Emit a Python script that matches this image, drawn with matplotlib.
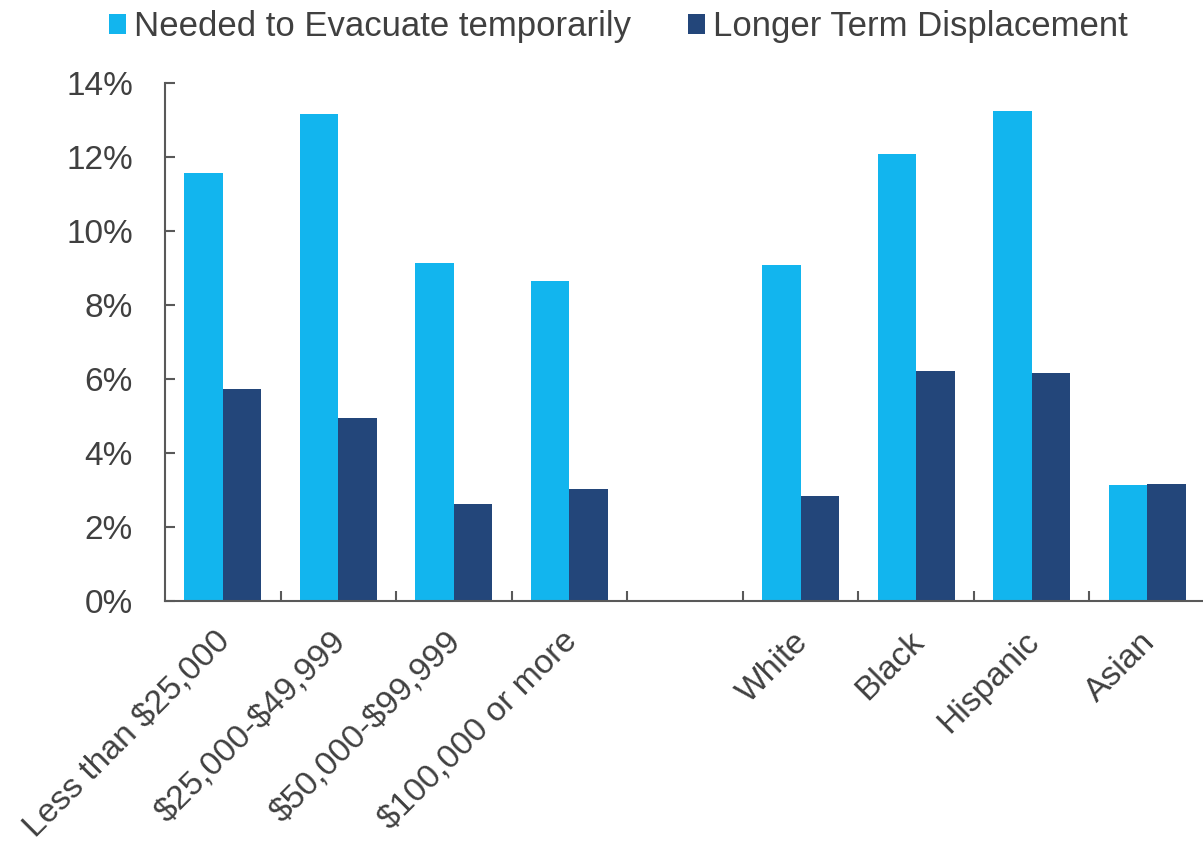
import numpy as np
import matplotlib.pyplot as plt
from matplotlib.transforms import ScaledTranslation

plt.rcParams['font.family'] = ['Liberation Sans', 'DejaVu Sans']
plt.rcParams['text.parse_math'] = False  # keep the dollar signs literal

categories = ['Less than $25,000', '$25,000-$49,999', '$50,000-$99,999', '$100,000 or more',
              '', 'White', 'Black', 'Hispanic', 'Asian']
evacuate = [11.57, 13.16, 9.14, 8.65, np.nan, 9.08, 12.08, 13.24, 3.14]
displaced = [5.73, 4.95, 2.62, 3.03, np.nan, 2.84, 6.22, 6.16, 3.16]
series_names = ['Needed to Evacuate temporarily', 'Longer Term Displacement']

light = '#12B5EE'
dark = '#23467A'
grey = '#404040'

fig = plt.figure(figsize=(12.03, 8.49), dpi=100)
ax = fig.add_axes([0.1372, 0.2921, 0.8645, 0.6101])

x = np.arange(len(categories))
w = 0.333
ax.bar(x - w / 2, evacuate, w, color=light, label=series_names[0])
ax.bar(x + w / 2, displaced, w, color=dark, label=series_names[1])

ax.set_xlim(-0.5, len(categories) - 0.5)
ax.set_ylim(0, 14)
ax.set_yticks(np.arange(0, 15, 2))
ax.set_yticklabels([f'{v}%' for v in range(0, 15, 2)])

ax.set_xticks(x)
ax.set_xticklabels(categories, rotation=45, ha='right', va='center', rotation_mode='anchor')
ax.set_xticks(np.arange(0.5, len(categories) - 0.5, 1), minor=True)
ax.tick_params(axis='x', which='major', length=0, pad=26, labelsize=24.2, labelcolor=grey)
ax.tick_params(axis='x', which='minor', direction='in', length=7, width=1.5, color='#595959')
ax.tick_params(axis='y', direction='in', length=7, width=1.5, color='#595959',
               pad=23, labelsize=24, labelcolor=grey)

# nudge rotated labels a bit to the right
shift = ScaledTranslation(3 / 100, 0, fig.dpi_scale_trans)
for lab in ax.get_xticklabels():
    lab.set_transform(lab.get_transform() + shift)

for s in ['top', 'right']:
    ax.spines[s].set_visible(False)
for s in ['left', 'bottom']:
    ax.spines[s].set_color('#595959')
    ax.spines[s].set_linewidth(1.5)

fig.legend(loc='upper center', bbox_to_anchor=(0.514, 1.025), ncol=2, frameon=False,
           fontsize=25, handlelength=0.5, handleheight=0.5, handletextpad=0.23,
           columnspacing=1.64, labelcolor=grey)

fig.savefig('out.png', dpi=100)
